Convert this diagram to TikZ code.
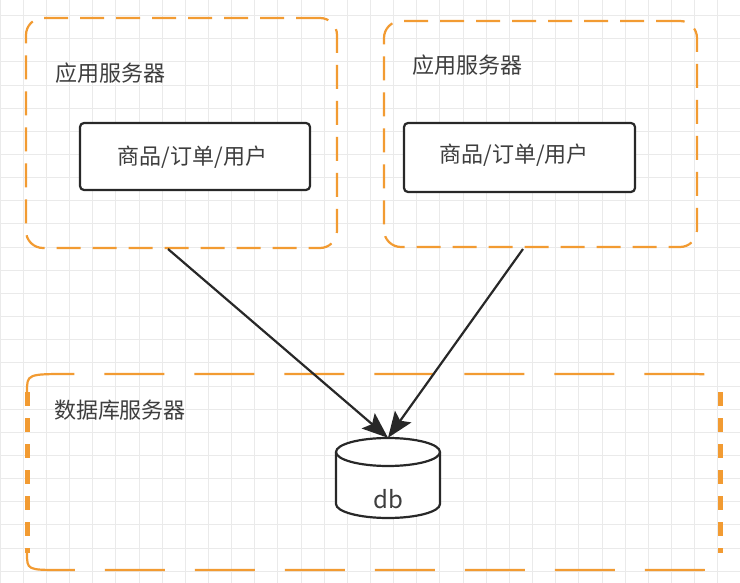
\documentclass[tikz,border=0pt]{standalone}
\usepackage{fontspec}
\setmainfont{Noto Sans CJK SC}
\usetikzlibrary{arrows.meta}
\definecolor{dorange}{RGB}{242,155,50}
\definecolor{dtext}{RGB}{62,62,62}
\definecolor{dline}{RGB}{40,40,40}
\definecolor{gridc}{RGB}{234,234,234}
\tikzset{
  gridline/.style={draw=gridc, line width=0.8pt},
  appbox/.style={draw=dorange, line width=2.2pt, dash pattern=on 24pt off 12pt, rounded corners=17pt, inner sep=0pt},
  compbox/.style={draw=dline, line width=2.2pt, rounded corners=4pt, fill=white, inner sep=0pt},
  lbl/.style={text=dtext, font=\fontsize{22pt}{26pt}\selectfont, inner sep=0pt},
  dbhoriz/.style={draw=dorange, line width=2.2pt, dash pattern=on 60pt off 30pt},
  dbside/.style={draw=dorange, line width=5pt, dash pattern=on 14pt off 12pt},
  arr/.style={draw=dline, line width=2.2pt, -{Stealth[length=26pt,width=20pt,inset=5pt]}},
  cylline/.style={draw=dline, line width=2.2pt, fill=white}
}
\begin{document}
\begin{tikzpicture}[x=1pt,y=-1pt]
\fill[white] (0,0) rectangle (740,583);
\useasboundingbox (0,0) rectangle (740,583);
% grid
\foreach \i in {0,...,32} \draw[gridline] ({\i*23.15},0) -- ({\i*23.15},583);
\foreach \j in {0,...,25} \draw[gridline] (0,{15.5+\j*23.15}) -- (740,{15.5+\j*23.15});
% application servers
\node[appbox, minimum width=311pt, minimum height=230pt] (appL) at (181.5,133) {};
\node[appbox, minimum width=313pt, minimum height=226pt] (appR) at (540.5,134) {};
\node[lbl] (tL) at (110.5,73) {应用服务器};
\node[lbl] (tR) at (467.5,65) {应用服务器};
\node[compbox, minimum width=230pt, minimum height=67pt] (cL) at (195,156.5) {};
\node[lbl] at (192.5,157) {商品/订单/用户};
\node[compbox, minimum width=231pt, minimum height=69pt] (cR) at (519.5,157.5) {};
\node[lbl] at (514,155) {商品/订单/用户};
% database server box
\draw[dbhoriz] (27,392) .. controls (27,374) .. (70,374) -- (680,374) .. controls (720,374) .. (720,392);
\draw[dbhoriz] (27,553) .. controls (27,570) .. (62,570) -- (690,570) .. controls (720,570) .. (720,553);
\draw[dbside] (27,392) -- (27,553);
\draw[dbside] (720,392) -- (720,553);
\node[lbl] (tDB) at (120,410) {数据库服务器};
% db cylinder
\node[inner sep=0pt, minimum width=104pt, minimum height=80pt] (db) at (388,478) {};
\draw[cylline] (336,452) -- (336,504) .. controls (336,511.7) and (359.3,518) .. (388,518)
  .. controls (416.7,518) and (440,511.7) .. (440,504) -- (440,452);
\draw[cylline] (388,452) ellipse [x radius=52, y radius=14];
\node[lbl, font=\fontsize{24pt}{28pt}\selectfont] at (388,499) {db};
% arrows
\coordinate (sL) at (168,249);
\coordinate (sR) at (523,249);
\draw[arr] (sL) -- (db.north);
\draw[arr] (sR) -- (db.north);
\end{tikzpicture}
\end{document}
